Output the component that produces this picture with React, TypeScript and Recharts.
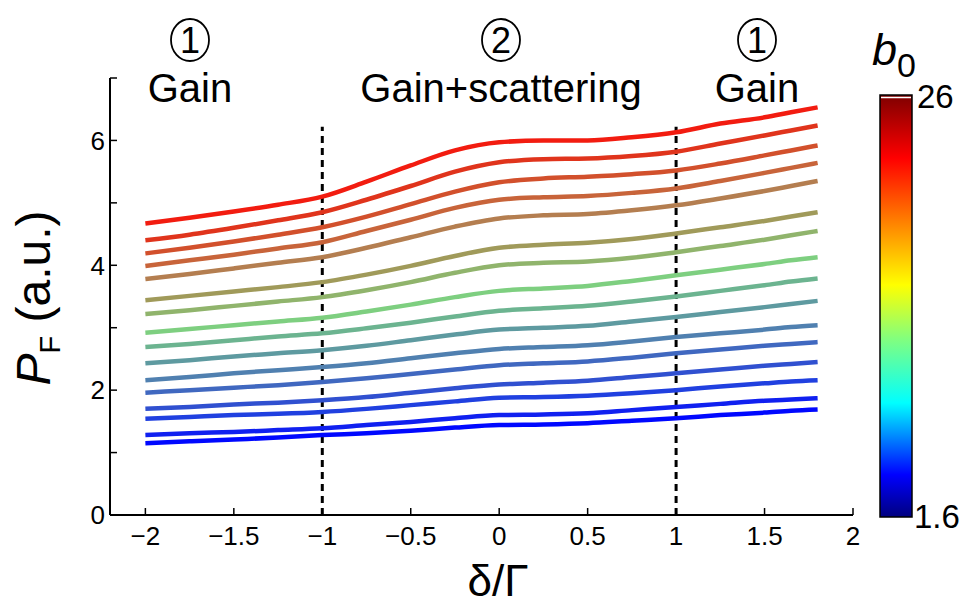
import React from 'react';
import { LineChart, Line, XAxis, YAxis, ReferenceLine } from 'recharts';

const xValues = [-2, -1.75, -1.5, -1.25, -1, -0.75, -0.5, -0.25, 0, 0.25, 0.5, 0.75, 1, 1.25, 1.5, 1.65, 1.8];

const s1 = [4.67, 4.76, 4.86, 4.97, 5.10, 5.34, 5.60, 5.84, 5.97, 6.00, 6.00, 6.05, 6.13, 6.27, 6.37, 6.45, 6.53];
const s2 = [4.40, 4.49, 4.60, 4.72, 4.85, 5.05, 5.27, 5.50, 5.65, 5.70, 5.71, 5.75, 5.82, 5.95, 6.08, 6.16, 6.24];
const s3 = [4.19, 4.28, 4.38, 4.49, 4.61, 4.78, 4.98, 5.18, 5.33, 5.39, 5.42, 5.46, 5.52, 5.63, 5.76, 5.84, 5.92];
const s4 = [3.99, 4.08, 4.17, 4.27, 4.37, 4.55, 4.73, 4.92, 5.05, 5.09, 5.11, 5.16, 5.23, 5.35, 5.48, 5.56, 5.64];
const s5 = [3.78, 3.86, 3.95, 4.04, 4.13, 4.28, 4.45, 4.62, 4.75, 4.80, 4.82, 4.88, 4.96, 5.07, 5.19, 5.27, 5.35];
const s6 = [3.44, 3.51, 3.58, 3.65, 3.73, 3.85, 3.99, 4.15, 4.28, 4.33, 4.36, 4.42, 4.51, 4.61, 4.71, 4.78, 4.85];
const s7 = [3.22, 3.28, 3.35, 3.42, 3.49, 3.60, 3.73, 3.88, 4.00, 4.04, 4.06, 4.12, 4.21, 4.31, 4.41, 4.48, 4.55];
const s8 = [2.92, 2.98, 3.04, 3.10, 3.16, 3.26, 3.37, 3.49, 3.59, 3.63, 3.67, 3.75, 3.84, 3.93, 4.02, 4.08, 4.13];
const s9 = [2.69, 2.74, 2.80, 2.86, 2.91, 2.99, 3.08, 3.18, 3.27, 3.31, 3.35, 3.42, 3.50, 3.59, 3.68, 3.74, 3.79];
const s10 = [2.43, 2.48, 2.54, 2.59, 2.64, 2.71, 2.80, 2.89, 2.97, 3.00, 3.03, 3.10, 3.17, 3.25, 3.33, 3.38, 3.43];
const s11 = [2.16, 2.21, 2.27, 2.32, 2.37, 2.43, 2.51, 2.59, 2.66, 2.69, 2.72, 2.78, 2.85, 2.91, 2.97, 3.01, 3.04];
const s12 = [1.96, 2.00, 2.04, 2.08, 2.13, 2.19, 2.26, 2.33, 2.40, 2.43, 2.46, 2.52, 2.59, 2.65, 2.71, 2.74, 2.77];
const s13 = [1.70, 1.73, 1.77, 1.80, 1.84, 1.89, 1.96, 2.03, 2.09, 2.12, 2.15, 2.21, 2.27, 2.33, 2.39, 2.42, 2.45];
const s14 = [1.54, 1.57, 1.60, 1.62, 1.65, 1.70, 1.76, 1.82, 1.88, 1.89, 1.91, 1.95, 2.00, 2.06, 2.11, 2.14, 2.16];
const s15 = [1.28, 1.31, 1.33, 1.36, 1.39, 1.44, 1.49, 1.55, 1.60, 1.61, 1.63, 1.68, 1.73, 1.78, 1.83, 1.85, 1.87];
const s16 = [1.15, 1.18, 1.21, 1.24, 1.28, 1.31, 1.35, 1.40, 1.44, 1.45, 1.47, 1.51, 1.55, 1.60, 1.64, 1.67, 1.69];

const seriesValues = [s1, s2, s3, s4, s5, s6, s7, s8, s9, s10, s11, s12, s13, s14, s15, s16];
const seriesColors = [
  '#f21c10', '#e0341c', '#d2502c', '#c8643a', '#b47e50', '#a09a5a', '#90b46c', '#7ecf80',
  '#6cb490', '#5e9aa0', '#5080b0', '#4068c0', '#3050d0', '#2040e0', '#1020f0', '#0008ff',
];

const xTicks = [-2, -1.5, -1, -0.5, 0, 0.5, 1, 1.5, 2];
const yTicks = [0, 1, 2, 3, 4, 5, 6, 7];
const boundaryLines = [-1, 1];
const boundaryTop = 6.22;
const regionLabels = [
  { num: '1', text: 'Gain', cx: 190 },
  { num: '2', text: 'Gain+scattering', cx: 501 },
  { num: '1', text: 'Gain', cx: 757 },
];
const colorbarMax = '26';
const colorbarMin = '1.6';

const data = xValues.map((x, i) => {
  const row: Record<string, number> = { x };
  seriesValues.forEach((s, k) => {
    row['s' + (k + 1)] = s[i];
  });
  return row;
});

const FONT = '"Liberation Sans", Arial, Helvetica, sans-serif';

const fmtX = (v: number) => (v < 0 ? '\u2212' + Math.abs(v) : String(v));
const fmtY = (v: number) => (v % 2 === 0 ? String(v) : '');

export default function App() {
  return (
    <div style={{ position: 'absolute', left: 0, top: 0, width: 964, height: 606, background: '#fff' }}>
      <LineChart
        width={964}
        height={606}
        data={data}
        margin={{ top: 78, right: 111, bottom: 0, left: 0 }}
      >
        <XAxis
          dataKey="x"
          type="number"
          domain={[-2.2, 2]}
          ticks={xTicks}
          interval={0}
          tickFormatter={fmtX}
          height={91}
          tickSize={-7}
          tickMargin={19}
          axisLine={{ stroke: '#000', strokeWidth: 2 }}
          tickLine={{ stroke: '#000', strokeWidth: 1.5 }}
          tick={{ fontSize: 26, fill: '#000', fontFamily: FONT }}
          allowDataOverflow
        />
        <YAxis
          type="number"
          domain={[0, 7]}
          ticks={yTicks}
          interval={0}
          tickFormatter={fmtY}
          width={110}
          tickSize={-7}
          tickMargin={12}
          axisLine={{ stroke: '#000', strokeWidth: 2 }}
          tickLine={{ stroke: '#000', strokeWidth: 1.5 }}
          tick={{ fontSize: 26, fill: '#000', fontFamily: FONT }}
          allowDataOverflow
        />
        {boundaryLines.map((bx) => (
          <ReferenceLine
            key={bx}
            segment={[{ x: bx, y: 0 }, { x: bx, y: boundaryTop }]}
            stroke="#000"
            strokeWidth={3}
            strokeDasharray="7 5"
            ifOverflow="visible"
          />
        ))}
        {seriesValues.map((_, k) => (
          <Line
            key={k}
            dataKey={'s' + (k + 1)}
            type="monotone"
            stroke={seriesColors[k]}
            strokeWidth={4.5}
            dot={false}
            isAnimationActive={false}
          />
        ))}
      </LineChart>
      <svg
        width={964}
        height={606}
        style={{ position: 'absolute', left: 0, top: 0, pointerEvents: 'none' }}
        fontFamily={FONT}
      >
        <defs>
          <linearGradient id="jet" x1="0" y1="1" x2="0" y2="0">
            <stop offset="0" stopColor="#00007f" />
            <stop offset="0.1" stopColor="#0000ff" />
            <stop offset="0.27" stopColor="#00ffff" />
            <stop offset="0.42" stopColor="#80ff80" />
            <stop offset="0.55" stopColor="#ffff00" />
            <stop offset="0.7" stopColor="#ff8000" />
            <stop offset="0.85" stopColor="#ff0000" />
            <stop offset="1" stopColor="#7f0000" />
          </linearGradient>
        </defs>
        {regionLabels.map((r, i) => (
          <g key={i}>
            <ellipse cx={r.cx} cy={40} rx={19} ry={21} fill="none" stroke="#000" strokeWidth={1.8} />
            <text x={r.cx} y={53} textAnchor="middle" fontSize={36} fill="#000">{r.num}</text>
            <text x={r.cx} y={102} textAnchor="middle" fontSize={40} fill="#000">{r.text}</text>
          </g>
        ))}
        <text transform="translate(50,298) rotate(-90)" textAnchor="middle" fill="#000" fontSize={48}>
          <tspan fontStyle="italic">P</tspan>
          <tspan fontSize={29} dy={10}>F</tspan>
          <tspan dy={-10}> (a.u.)</tspan>
        </text>
        <text x={498} y={596} textAnchor="middle" fontSize={44} fill="#000">δ/Γ</text>
        <rect x={880} y={95} width={32} height={422} fill="url(#jet)" stroke="#000" strokeWidth={1.5} />
        <line x1={881} x2={911} y1={97.5} y2={97.5} stroke="#fff" strokeWidth={1.5} />
        <text x={917} y={108} fontSize={33} fill="#000">{colorbarMax}</text>
        <text x={914} y={528} fontSize={33} fill="#000">{colorbarMin}</text>
        <text x={872} y={65} fontSize={45} fill="#000">
          <tspan fontStyle="italic">b</tspan>
          <tspan fontSize={34} dy={12}>0</tspan>
        </text>
      </svg>
    </div>
  );
}
